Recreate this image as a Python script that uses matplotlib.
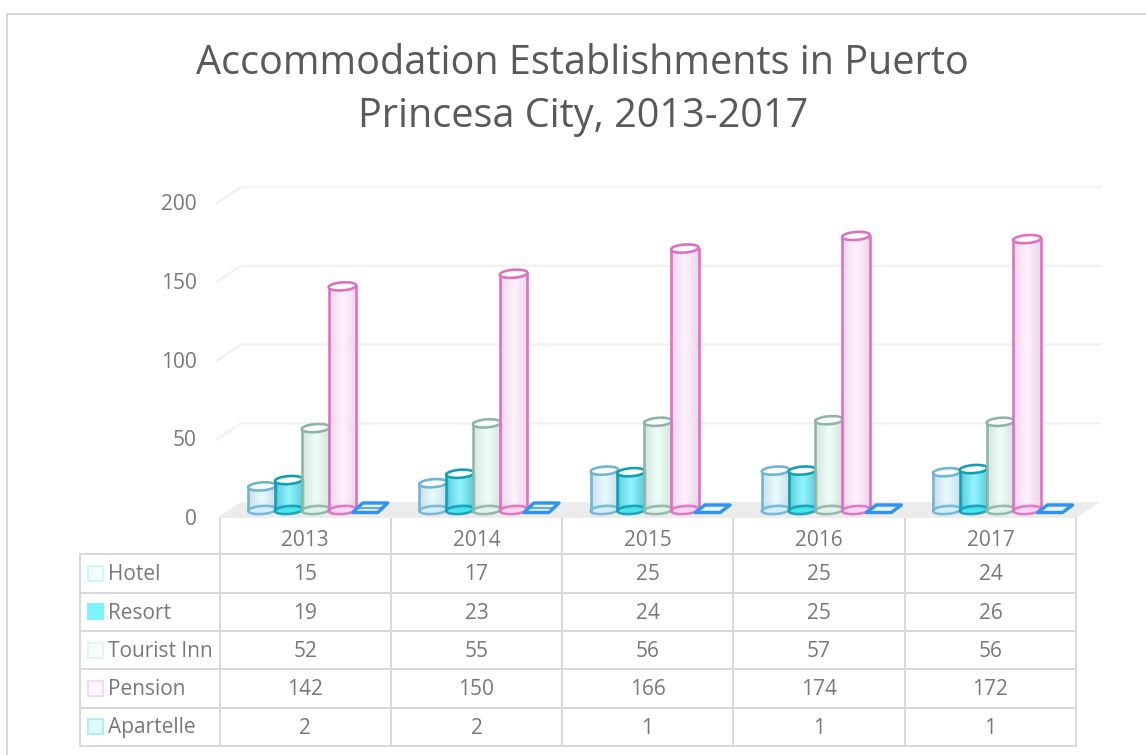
import matplotlib
matplotlib.use('Agg')
import matplotlib.pyplot as plt
from matplotlib.colors import LinearSegmentedColormap
from matplotlib.patches import Polygon, Rectangle
import numpy as np

years = ['2013', '2014', '2015', '2016', '2017']
series = ['Hotel', 'Resort', 'Tourist Inn', 'Pension', 'Apartelle']
hotel = [15, 17, 25, 25, 24]
resort = [19, 23, 24, 25, 26]
tourist_inn = [52, 55, 56, 57, 56]
pension = [142, 150, 166, 174, 172]
apartelle = [2, 2, 1, 1, 1]
yticks = [0, 50, 100, 150, 200]

W, H = 1146, 755
plt.rcParams['font.family'] = ['Open Sans', 'DejaVu Sans']
fig = plt.figure(figsize=(W / 100, H / 100), dpi=100)
px = 0.72  # un pixel en puntos
gris = '#787878'
letra = 15

# capa de fondo en pixeles: marco, titulo y tabla
bg = fig.add_axes([0, 0, 1, 1])
bg.set_xlim(0, W)
bg.set_ylim(H, 0)
bg.axis('off')
linea = '#d9d9d9'
bg.plot([7, 7], [14, H], color=linea, lw=2 * px)
bg.plot([7, W], [14, 14], color=linea, lw=2 * px)
bg.text(582.5, 74, 'Accommodation Establishments in Puerto', fontsize=28.5, color='#595959', ha='center', va='baseline')
bg.text(583, 127, 'Princesa City, 2013-2017', fontsize=28.5, color='#595959', ha='center', va='baseline')

# tabla de datos
col_x = [79.5, 219.5, 391, 562, 733, 905, 1076]
row_y = [554, 592.5, 631, 669, 707.5, 745.5]
for x in col_x[1:]:
    bg.plot([x, x], [518, row_y[-1]], color=linea, lw=2 * px)
bg.plot([col_x[0], col_x[0]], [row_y[0], row_y[-1]], color=linea, lw=2 * px)
for y in row_y:
    bg.plot([col_x[0], col_x[-1]], [y, y], color=linea, lw=2 * px)

valores = [hotel, resort, tourist_inn, pension, apartelle]
key_fill = ['#effdff', '#7cf4ff', '#f6fdfa', '#fff8ff', '#def9ff']
key_edge = ['#cdf7fb', '#7cf4ff', '#dff7ef', '#fdd3fb', '#b5ebfa']
for j, year in enumerate(years):
    cx = (col_x[j + 1] + col_x[j + 2]) / 2
    bg.text(cx, 546, year, fontsize=letra, color=gris, ha='center', va='baseline')
for i, nombre in enumerate(series):
    cy = (row_y[i] + row_y[i + 1]) / 2
    base = cy + 7
    bg.add_patch(Rectangle((87.5, cy - 7.5), 15, 15, fc=key_fill[i], ec=key_edge[i], lw=2 * px))
    bg.text(107.5, base, nombre, fontsize=letra, color=gris, ha='left', va='baseline')
    for j, v in enumerate(valores[i]):
        cx = (col_x[j + 1] + col_x[j + 2]) / 2
        bg.text(cx, base, str(v), fontsize=letra, color=gris, ha='center', va='baseline')

# ejes del grafico: y=0 queda en la base de las barras
ax = fig.add_axes([220 / W, 1 - 510 / H, 856 / W, 315 / H])
ax.patch.set_alpha(0)
ax.axis('off')

ux = 5 / 856     # datos por pixel en x
uy = 200 / 315   # datos por pixel en y
atras = 8 * uy
frente = -8 * uy
fondo_x = 24 * ux

# piso y rejilla
ax.add_patch(Polygon([(-3 * ux, frente), (5, frente), (5 + fondo_x, atras), (fondo_x - 3 * ux, atras)],
                     fc='#ececec', ec='none', clip_on=False, zorder=1))
for t in yticks:
    if t > 0:
        ax.plot([-3 * ux, fondo_x - 3 * ux, 5 + fondo_x], [t + frente, t + atras, t + atras],
                color='#f2f2f2', lw=2.5 * px, clip_on=False, zorder=1)
    ax.text(-23 * ux, t + frente - 7 * uy, str(t), fontsize=letra, color=gris, ha='right', va='baseline', clip_on=False)

# colores de los cilindros
bar_edge = ['#6fb5d6', '#119fb4', '#8db6a6', '#e06fc2']
bar_side = ['#c2d9e6', '#3fc3d6', '#cfdfd9', '#ebcfe6']
bar_mid = ['#e3fbff', '#7ff4ff', '#ebfef7', '#fff0ff']
bar_base = ['#d2eef8', '#3fe3ef', '#e2f2ec', '#fcd4f3']
ancho = 27.6 * ux
paso = 26.8 * ux
centro_off = 10 * ux
semi_y = 4 * uy
tilt = 0.07 * (uy / ux)
t_el = np.linspace(0, 2 * np.pi, 80)


def elipse(cx, cy):
    a = ancho / 2
    xs = cx + a * np.cos(t_el)
    ys = cy + semi_y * np.sin(t_el) + tilt * a * np.cos(t_el)
    return np.column_stack([xs, ys])


def cilindro(cx, valor, k, z):
    cmap = LinearSegmentedColormap.from_list('c', [bar_side[k], bar_mid[k], bar_side[k]])
    grad = np.linspace(0, 1, 64).reshape(1, -1)
    x0, x1 = cx - ancho / 2, cx + ancho / 2
    ax.imshow(grad, extent=[x0, x1, 0, valor], aspect='auto', cmap=cmap, alpha=0.85,
              zorder=z, clip_on=False, interpolation='bilinear')
    ax.add_patch(Polygon(elipse(cx, 0), fc=bar_base[k], ec=bar_edge[k], lw=2.6 * px, alpha=0.9,
                         clip_on=False, zorder=z + 0.1))
    ax.plot([x0, x0], [0, valor], color=bar_edge[k], lw=2.6 * px, clip_on=False, zorder=z + 0.2)
    ax.plot([x1, x1], [0, valor], color=bar_edge[k], lw=2.6 * px, clip_on=False, zorder=z + 0.2)
    ax.add_patch(Polygon(elipse(cx, valor), fc='#fbfdfd', ec=bar_edge[k], lw=2.6 * px,
                         clip_on=False, zorder=z + 0.3))


for j in range(len(years)):
    centro = j + 0.5 + centro_off
    for k, datos in enumerate(valores[:4]):
        cilindro(centro + (k - 2) * paso, datos[j], k, 2 + k)
    # apartelle: caja plana
    cx = centro + 2 * paso
    v = apartelle[j]
    izq = cx - 16.5 * ux
    abajo = -2.5 * uy
    arriba = (3 + 2 * v) * uy
    caja = [(izq, abajo), (izq + 25 * ux, abajo), (izq + 35 * ux, arriba), (izq + 10 * ux, arriba)]
    ax.add_patch(Polygon(caja, fc='#e8f5ff', ec='#2f93f5', lw=3.4 * px, clip_on=False, zorder=7, joinstyle='round'))
    if v > 1:
        medio = (abajo + arriba) / 2
        ax.plot([izq + 4 * ux, izq + 31 * ux], [medio, medio], color='#2f93f5', lw=1.5 * px, clip_on=False, zorder=7.1)

ax.set_xlim(0, 5)
ax.set_ylim(0, 200)

fig.savefig('out.png', dpi=100)
